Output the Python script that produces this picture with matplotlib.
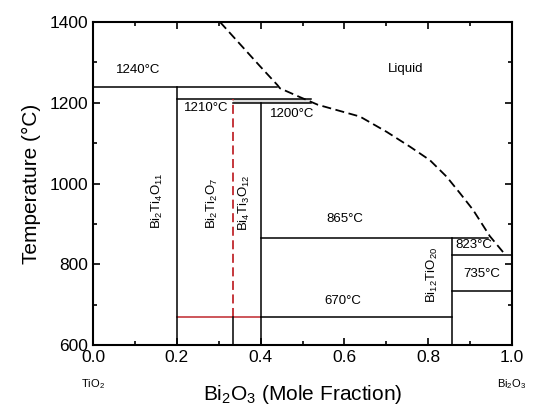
import matplotlib
matplotlib.use("Agg")
import matplotlib.pyplot as plt
from matplotlib.ticker import MultipleLocator

plt.rcParams['font.family'] = ['Liberation Sans', 'DejaVu Sans']
plt.rcParams['mathtext.fontset'] = 'custom'
plt.rcParams['mathtext.rm'] = 'Liberation Sans'
plt.rcParams['mathtext.it'] = 'Liberation Sans:italic'
plt.rcParams['mathtext.default'] = 'regular'

# liquidus (dashed)
liq_x = [0.303, 0.399, 0.44, 0.446, 0.494, 0.537, 0.637, 0.701, 0.757, 0.804, 0.844, 0.876, 0.907, 0.947, 0.983]
liq_t = [1400, 1290, 1244, 1236, 1214, 1195, 1166, 1128, 1091, 1058, 1017, 976, 935, 870, 825]

# compound compositions (mole fraction Bi2O3)
compounds = ["Bi$_2$Ti$_4$O$_{11}$", "Bi$_2$Ti$_2$O$_7$", "Bi$_4$Ti$_3$O$_{12}$", "Bi$_{12}$TiO$_{20}$"]
comp_x = [0.2, 1 / 3, 0.4, 6 / 7]

# invariant temperatures
t_labels = ["1240°C", "1210°C", "1200°C", "865°C", "823°C", "735°C", "670°C"]
t_vals = [1240, 1210, 1200, 865, 823, 735, 670]

fig, ax = plt.subplots(figsize=(5.35, 4.08), dpi=100)
fig.subplots_adjust(left=0.174, right=0.957, bottom=0.154, top=0.946)

lw = 1.1
k = 'black'
red = '#c0272d'

# horizontal lines
ax.plot([0, 0.44], [1240, 1240], color=k, lw=lw)
ax.fill_between([1 / 3, 0.52], [1200, 1200], [1210, 1210], color='#dddddd', lw=0)
ax.plot([0.2, 0.52], [1210, 1210], color=k, lw=lw)
ax.plot([1 / 3, 0.52], [1200, 1200], color=k, lw=lw)
ax.plot([0.4, 0.943], [865, 865], color=k, lw=lw)
ax.plot([6 / 7, 1.0], [823, 823], color=k, lw=lw)
ax.plot([6 / 7, 1.0], [735, 735], color=k, lw=lw)
ax.plot([0.2, 0.4], [670, 670], color=red, lw=lw)
ax.plot([0.4, 6 / 7], [670, 670], color=k, lw=lw)

# vertical lines
ax.plot([0.2, 0.2], [600, 1240], color=k, lw=lw)
ax.plot([1 / 3, 1 / 3], [670, 1210], color=red, lw=1.3, ls=(0, (5, 2.5)))
ax.plot([1 / 3, 1 / 3], [600, 670], color=k, lw=lw)
ax.plot([0.4, 0.4], [600, 1200], color=k, lw=lw)
ax.plot([6 / 7, 6 / 7], [600, 865], color=k, lw=lw)

# liquidus
ax.plot(liq_x, liq_t, color=k, lw=1.3, ls=(0, (5, 2.5)))

# temperature labels
t_pos = [(0.108, 1281), (0.27, 1186), (0.475, 1172), (0.601, 912), (0.909, 848), (0.928, 776), (0.597, 709)]
for lab, (x, y) in zip(t_labels, t_pos):
    ax.text(x, y, lab, ha='center', va='center', fontsize=9.5)
ax.text(0.747, 1284, "Liquid", ha='center', va='center', fontsize=9.5)

# compound labels
c_pos = [(0.153, 957), (0.286, 952), (0.362, 952), (0.81, 774)]
for lab, (x, y) in zip(compounds, c_pos):
    ax.text(x, y, lab, ha='center', va='center', rotation=90, fontsize=9.5)

ax.set_xlim(0, 1)
ax.set_ylim(600, 1400)
ax.xaxis.set_major_locator(MultipleLocator(0.2))
ax.xaxis.set_minor_locator(MultipleLocator(0.1))
ax.yaxis.set_major_locator(MultipleLocator(200))
ax.yaxis.set_minor_locator(MultipleLocator(100))
ax.tick_params(which='both', direction='in', top=True, right=True, labelsize=12.5, width=1.2)
ax.tick_params(which='major', length=5)
ax.tick_params(which='minor', length=3)
for s in ax.spines.values():
    s.set_linewidth(1.5)

ax.set_xlabel("Bi$_2$O$_3$ (Mole Fraction)", fontsize=15, labelpad=13)
ax.set_ylabel("Temperature (°C)", fontsize=15, labelpad=6)

ax.text(0.0, -0.12, "TiO$_2$", transform=ax.transAxes, ha='center', va='center', fontsize=8)
ax.text(1.0, -0.12, "Bi$_2$O$_3$", transform=ax.transAxes, ha='center', va='center', fontsize=8)

fig.savefig("out.png", dpi=100)
